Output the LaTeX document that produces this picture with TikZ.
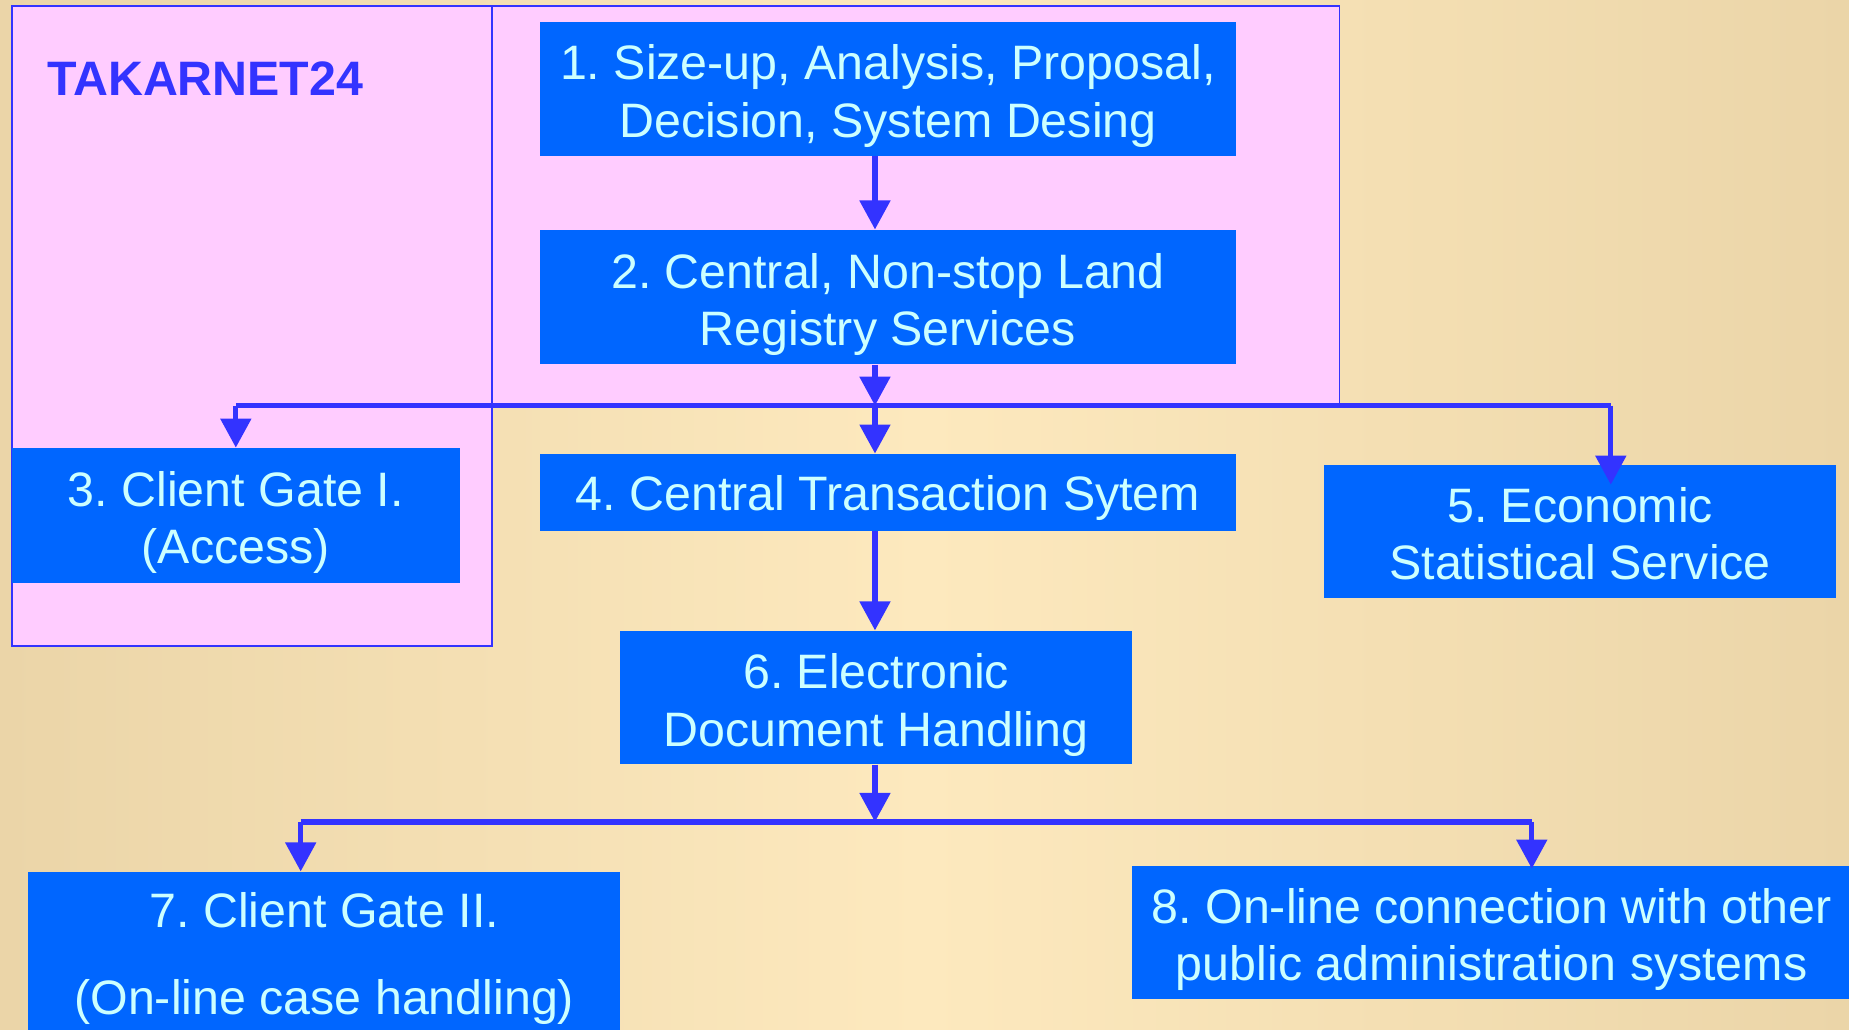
\documentclass[tikz,border=0pt]{standalone}
\usepackage{fontspec}
\setmainfont{Liberation Sans}
\usetikzlibrary{arrows.meta}
\definecolor{boxblue}{HTML}{0066FF}
\definecolor{boxtext}{HTML}{CCFFFF}
\definecolor{arrowblue}{HTML}{3333FF}
\definecolor{pinkarea}{HTML}{FFCCFF}
\definecolor{bgedge}{HTML}{EBD5A8}
\definecolor{bgmid}{HTML}{FDE9BE}
\frenchspacing
\newcommand\lift{\rule{0pt}{21pt}}

\begin{document}
\begin{tikzpicture}[x=0.5pt, y=-0.5pt,
    block/.style={rectangle, fill=boxblue, text=boxtext, align=center, inner sep=0pt,
      font=\fontsize{20.5}{24.5}\selectfont\frenchspacing},
    link/.style={arrowblue, line width=2.2pt},
    arr/.style={link, -{Triangle[width=12.7pt, length=12.3pt]}}]

        \path[use as bounding box, clip] (0,0) rectangle (1568,873);
        \shade[left color=bgedge, right color=bgedge, middle color=bgmid] (0,0) rectangle (1568,873);

        % TAKARNET24 area
        \draw[fill=pinkarea, draw=arrowblue, line width=0.75pt] (10,5) rectangle (417,548);
        \draw[fill=pinkarea, draw=arrowblue, line width=0.75pt] (417,5) rectangle (1136,343);
        \node[anchor=west, text=arrowblue, font=\fontsize{20.5}{24.5}\selectfont\bfseries] (title) at (33,67) {TAKARNET24};

        \node[block, minimum width=295pt, minimum height=56.5pt] (sizeup) at (753,75.5) {\lift 1. Size-up, Analysis, Proposal,\\Decision, System Desing};
        \node[block, minimum width=295pt, minimum height=57pt] (registry) at (753,252) {\lift 2. Central, Non-stop Land\\Registry Services};
        \node[block, minimum width=190pt, minimum height=57pt] (gateone) at (200,437) {\lift 3. Client Gate I.\\(Access)};
        \node[block, minimum width=295pt, minimum height=32.5pt] (transaction) at (753,417.5) {\rule{0pt}{20pt}4. Central Transaction Sytem};
        \node[block, minimum width=217pt, minimum height=56.5pt] (statistics) at (1340,450.5) {\rule{0pt}{17pt}5. Economic\\Statistical Service};
        \node[block, minimum width=217pt, minimum height=56.5pt] (document) at (743,591.5) {\lift 6. Electronic\\Document Handling};
        \node[block, minimum width=251pt, anchor=north, inner ysep=8.5pt] (gatetwo) at (275,739) {7. Client Gate II.\\[12.5pt](On-line case handling)};
        \node[block, minimum width=305pt, minimum height=56.5pt] (online) at (1265,790.5) {\lift 8. On-line connection with other\\public administration systems};

        \coordinate (spineone) at (742,344);
        \coordinate (leftone) at (200,344);
        \coordinate (rightone) at (1366,344);
        \coordinate (tipfive) at (1366,411);
        \coordinate (spinetwo) at (742,697);
        \coordinate (lefttwo) at (255,697);
        \coordinate (righttwo) at (1299,697);

        \draw[arr] (sizeup.south -| spineone) -- (registry.north -| spineone);
        \draw[arr] (registry.south -| spineone) -- (spineone);
        \draw[link] (leftone) -- (rightone);
        \draw[arr] (leftone) -- (gateone.north -| leftone);
        \draw[arr] (spineone) -- (transaction.north -| spineone);
        \draw[arr] (rightone) -- (tipfive);
        \draw[arr] (transaction.south -| spinetwo) -- (document.north -| spinetwo);
        \draw[arr] (document.south -| spinetwo) -- (spinetwo);
        \draw[link] (lefttwo) -- (righttwo);
        \draw[arr] (lefttwo) -- (gatetwo.north -| lefttwo);
        \draw[arr] (righttwo) -- ([yshift=-1.5pt]online.north -| righttwo);

      \end{tikzpicture}
\end{document}
